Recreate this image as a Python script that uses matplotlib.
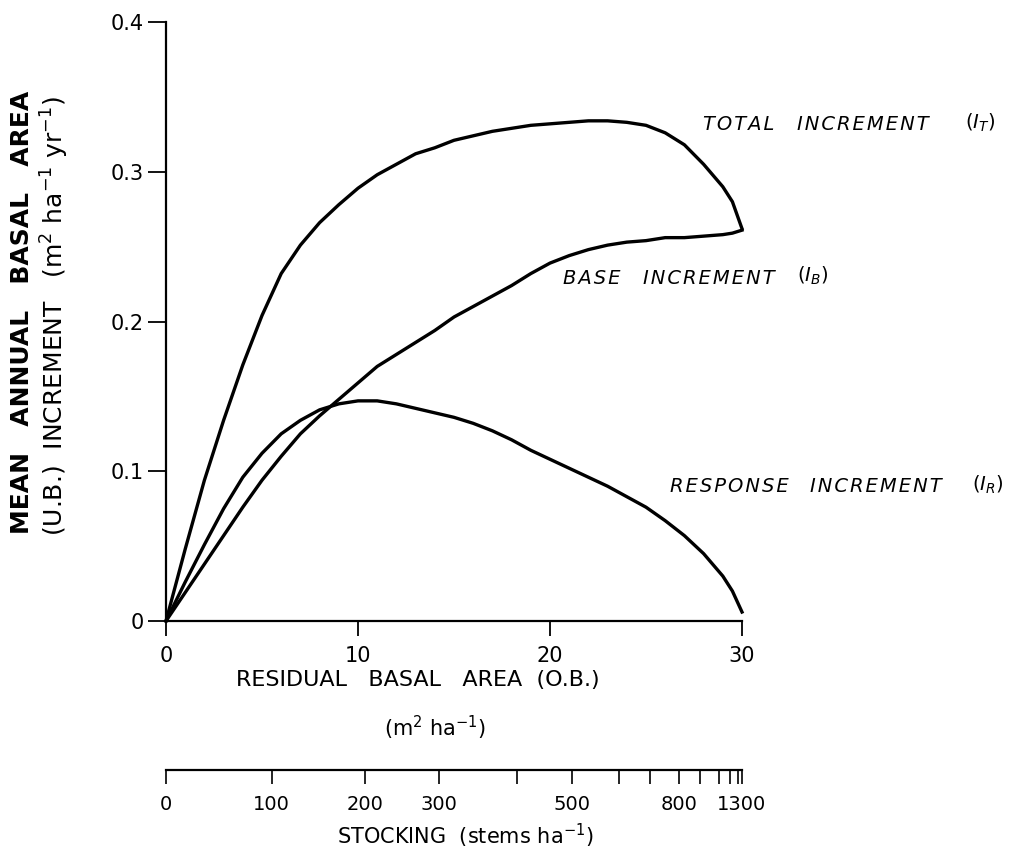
import matplotlib
matplotlib.use('Agg')
import matplotlib.pyplot as plt

# Basal area (m2/ha) values
ba = [0, 1, 2, 3, 4, 5, 6, 7, 8, 9, 10, 11, 12, 13, 14, 15, 16, 17, 18, 19, 20,
      21, 22, 23, 24, 25, 26, 27, 28, 29, 29.5, 30]

total_inc = [0, 0.048, 0.094, 0.134, 0.171, 0.204, 0.232, 0.251, 0.266, 0.278, 0.289,
             0.298, 0.305, 0.312, 0.316, 0.321, 0.324, 0.327, 0.329, 0.331, 0.332,
             0.333, 0.334, 0.334, 0.333, 0.331, 0.326, 0.318, 0.305, 0.290, 0.280, 0.262]

base_inc = [0, 0.019, 0.038, 0.057, 0.076, 0.094, 0.110, 0.125, 0.137, 0.148, 0.159,
            0.170, 0.178, 0.186, 0.194, 0.203, 0.210, 0.217, 0.224, 0.232, 0.239,
            0.244, 0.248, 0.251, 0.253, 0.254, 0.256, 0.256, 0.257, 0.258, 0.259, 0.261]

resp_inc = [0, 0.026, 0.051, 0.075, 0.096, 0.112, 0.125, 0.134, 0.141, 0.145, 0.147,
            0.147, 0.145, 0.142, 0.139, 0.136, 0.132, 0.127, 0.121, 0.114, 0.108,
            0.102, 0.096, 0.090, 0.083, 0.076, 0.067, 0.057, 0.045, 0.030, 0.020, 0.006]

# stocking scale: stems/ha and where they fall on the basal area axis
stems = [0, 100, 200, 300, 400, 500, 600, 700, 800, 900, 1000, 1100, 1200, 1300]
stems_ba = [0, 5.5, 10.35, 14.24, 18.3, 21.15, 23.57, 25.2, 26.7, 27.8, 28.8, 29.4, 29.8, 30.0]
stems_labelled = [0, 100, 200, 300, 500, 800, 1300]

x_ticks = [0, 10, 20, 30]
y_ticks = [0, 0.1, 0.2, 0.3, 0.4]
y_ticklabels = ['0', '0.1', '0.2', '0.3', '0.4']

W, H = 1020, 859


def fx(p):
    return p / W


def fy(p):
    return 1 - p / H


def spaced(word):
    # hand lettering on the original is a little spread out
    return '\u200a'.join(word)


fig = plt.figure(figsize=(W / 100, H / 100), dpi=100)
fig.patch.set_facecolor('white')

L, R = fx(166), fx(742)
B, T = fy(621), fy(22)
ax = fig.add_axes([L, B, R - L, T - B])
ax.set_xlim(0, 30)
ax.set_ylim(0, 0.4)
for s in ['top', 'right']:
    ax.spines[s].set_visible(False)
for s in ['left', 'bottom']:
    ax.spines[s].set_linewidth(1.6)

ax.set_xticks(x_ticks)
ax.set_xticklabels([str(t) for t in x_ticks])
ax.set_yticks(y_ticks)
ax.set_yticklabels(y_ticklabels)
ax.tick_params(axis='y', length=13, width=1.3, direction='out', pad=3, labelsize=15)
ax.tick_params(axis='x', length=11, width=1.3, direction='out', pad=7, labelsize=15)

for y in [total_inc, base_inc, resp_inc]:
    ax.plot(ba, y, color='k', lw=2.4, solid_joinstyle='round', clip_on=False)

# curve labels, one word at a time
lab_kw = dict(fontsize=14, style='italic', va='center', ha='left')
fig.text(fx(703), fy(125), spaced('TOTAL'), **lab_kw)
fig.text(fx(797), fy(125), spaced('INCREMENT'), **lab_kw)
fig.text(fx(965), fy(123), '$(I_T)$', **lab_kw)
fig.text(fx(563), fy(278), spaced('BASE'), **lab_kw)
fig.text(fx(643), fy(278), spaced('INCREMENT'), **lab_kw)
fig.text(fx(797), fy(276), '$(I_B)$', **lab_kw)
fig.text(fx(670), fy(487), spaced('RESPONSE'), **lab_kw)
fig.text(fx(810), fy(487), spaced('INCREMENT'), **lab_kw)
fig.text(fx(972), fy(485), '$(I_R)$', **lab_kw)

# axis titles
fig.text(fx(22), fy(312), 'MEAN   ANNUAL   BASAL   AREA', rotation=90,
         fontsize=18, fontweight='bold', ha='center', va='center')
fig.text(fx(55), fy(316), '(U.B.)  INCREMENT   (m$^2$ ha$^{-1}$ yr$^{-1}$)', rotation=90,
         fontsize=18, ha='center', va='center')
fig.text(fx(418), fy(680), 'RESIDUAL   BASAL   AREA  (O.B.)', fontsize=16,
         ha='center', va='center')
fig.text(fx(435), fy(728), '(m$^2$ ha$^{-1}$)', fontsize=15, ha='center', va='center')

# stocking scale under the main axis
ax2 = fig.add_axes([L, fy(770), R - L, 0.0001])
ax2.set_xlim(0, 30)
for s in ['top', 'right', 'left']:
    ax2.spines[s].set_visible(False)
ax2.spines['bottom'].set_linewidth(1.6)
ax2.set_yticks([])
ax2.set_xticks(stems_ba)
ax2.set_xticklabels([str(n) if n in stems_labelled else '' for n in stems])
ax2.tick_params(axis='x', length=10, width=1.2, direction='out', pad=8, labelsize=14)
ax2.patch.set_visible(False)

fig.text(fx(465), fy(836), 'STOCKING  (stems ha$^{-1}$)', fontsize=15,
         ha='center', va='center')

fig.savefig('out.png', dpi=100)
